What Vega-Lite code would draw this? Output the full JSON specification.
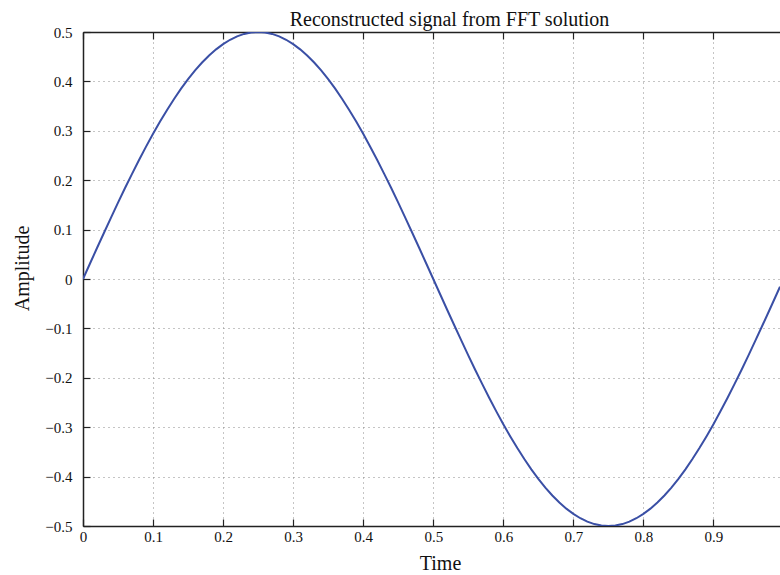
{
  "$schema": "https://vega.github.io/schema/vega-lite/v6.json",
  "autosize": "none",
  "width": 697,
  "height": 494,
  "padding": {"left": 83, "top": 32, "right": 0, "bottom": 49},
  "background": "white",
  "config": {
    "view": {"stroke": null},
    "font": "Liberation Serif",
    "axis": {
      "labelFont": "Liberation Serif",
      "titleFont": "Liberation Serif",
      "labelFontSize": 15,
      "labelColor": "#111111",
      "labelFlush": false,
      "titleFontSize": 20,
      "titleFontWeight": "normal",
      "titleColor": "#111111",
      "domainColor": "#222222",
      "domainWidth": 1.5,
      "tickColor": "#222222",
      "tickWidth": 1.2,
      "tickSize": -7,
      "gridColor": "#8a8a8a",
      "gridDash": [1, 4],
      "gridWidth": 1
    }
  },
  "title": {
    "text": "Reconstructed signal from FFT solution",
    "font": "Liberation Serif",
    "fontSize": 20,
    "fontWeight": "normal",
    "color": "#111111",
    "offset": 8,
    "dx": 18,
    "dy": 13
  },
  "data": {"values": [
    {"t":0,"a":0},{"t":0.01,"a":0.0314},{"t":0.02,"a":0.0627},{"t":0.03,"a":0.0937},{"t":0.04,"a":0.1243},
    {"t":0.05,"a":0.1545},{"t":0.06,"a":0.1841},{"t":0.07,"a":0.2129},{"t":0.08,"a":0.2409},{"t":0.09,"a":0.2679},
    {"t":0.1,"a":0.2939},{"t":0.11,"a":0.3187},{"t":0.12,"a":0.3423},{"t":0.13,"a":0.3645},{"t":0.14,"a":0.3853},
    {"t":0.15,"a":0.4045},{"t":0.16,"a":0.4222},{"t":0.17,"a":0.4382},{"t":0.18,"a":0.4524},{"t":0.19,"a":0.4649},
    {"t":0.2,"a":0.4755},{"t":0.21,"a":0.4843},{"t":0.22,"a":0.4911},{"t":0.23,"a":0.4961},{"t":0.24,"a":0.499},
    {"t":0.25,"a":0.5},{"t":0.26,"a":0.499},{"t":0.27,"a":0.4961},{"t":0.28,"a":0.4911},{"t":0.29,"a":0.4843},
    {"t":0.3,"a":0.4755},{"t":0.31,"a":0.4649},{"t":0.32,"a":0.4524},{"t":0.33,"a":0.4382},{"t":0.34,"a":0.4222},
    {"t":0.35,"a":0.4045},{"t":0.36,"a":0.3853},{"t":0.37,"a":0.3645},{"t":0.38,"a":0.3423},{"t":0.39,"a":0.3187},
    {"t":0.4,"a":0.2939},{"t":0.41,"a":0.2679},{"t":0.42,"a":0.2409},{"t":0.43,"a":0.2129},{"t":0.44,"a":0.1841},
    {"t":0.45,"a":0.1545},{"t":0.46,"a":0.1243},{"t":0.47,"a":0.0937},{"t":0.48,"a":0.0627},{"t":0.49,"a":0.0314},
    {"t":0.5,"a":0},{"t":0.51,"a":-0.0314},{"t":0.52,"a":-0.0627},{"t":0.53,"a":-0.0937},{"t":0.54,"a":-0.1243},
    {"t":0.55,"a":-0.1545},{"t":0.56,"a":-0.1841},{"t":0.57,"a":-0.2129},{"t":0.58,"a":-0.2409},{"t":0.59,"a":-0.2679},
    {"t":0.6,"a":-0.2939},{"t":0.61,"a":-0.3187},{"t":0.62,"a":-0.3423},{"t":0.63,"a":-0.3645},{"t":0.64,"a":-0.3853},
    {"t":0.65,"a":-0.4045},{"t":0.66,"a":-0.4222},{"t":0.67,"a":-0.4382},{"t":0.68,"a":-0.4524},{"t":0.69,"a":-0.4649},
    {"t":0.7,"a":-0.4755},{"t":0.71,"a":-0.4843},{"t":0.72,"a":-0.4911},{"t":0.73,"a":-0.4961},{"t":0.74,"a":-0.499},
    {"t":0.75,"a":-0.5},{"t":0.76,"a":-0.499},{"t":0.77,"a":-0.4961},{"t":0.78,"a":-0.4911},{"t":0.79,"a":-0.4843},
    {"t":0.8,"a":-0.4755},{"t":0.81,"a":-0.4649},{"t":0.82,"a":-0.4524},{"t":0.83,"a":-0.4382},{"t":0.84,"a":-0.4222},
    {"t":0.85,"a":-0.4045},{"t":0.86,"a":-0.3853},{"t":0.87,"a":-0.3645},{"t":0.88,"a":-0.3423},{"t":0.89,"a":-0.3187},
    {"t":0.9,"a":-0.2939},{"t":0.91,"a":-0.2679},{"t":0.92,"a":-0.2409},{"t":0.93,"a":-0.2129},{"t":0.94,"a":-0.1841},
    {"t":0.95,"a":-0.1545},{"t":0.96,"a":-0.1243},{"t":0.97,"a":-0.0937},{"t":0.98,"a":-0.0627},{"t":0.99,"a":-0.0314},
    {"t":0.995,"a":-0.0157}
  ]},
  "resolve": {"axis": {"x": "independent"}},
  "layer": [
    {
      "mark": {"type": "line", "color": "#3a4fa5", "strokeWidth": 2, "clip": true},
      "encoding": {
        "x": {
          "field": "t", "type": "quantitative",
          "scale": {"domain": [0, 0.995], "nice": false, "zero": false},
          "axis": {
            "orient": "bottom",
            "values": [0, 0.1, 0.2, 0.3, 0.4, 0.5, 0.6, 0.7, 0.8, 0.9],
            "labelExpr": "datum.value == 0 ? '0' : format(datum.value, '.1f')",
            "labelPadding": 10,
            "title": "Time",
            "titleX": 357,
            "titleY": 37,
            "titleBaseline": "middle",
            "grid": true
          }
        },
        "y": {
          "field": "a", "type": "quantitative",
          "scale": {"domain": [-0.5, 0.5], "nice": false},
          "axis": {
            "values": [-0.5, -0.4, -0.3, -0.2, -0.1, 0, 0.1, 0.2, 0.3, 0.4, 0.5],
            "labelExpr": "datum.value == 0 ? '0' : format(datum.value, '.1f')",
            "labelPadding": 18,
            "title": "Amplitude",
            "titleAngle": -90,
            "titleX": -61,
            "titleY": 236,
            "titleBaseline": "middle",
            "titleAlign": "center",
            "grid": true
          }
        }
      }
    },
    {
      "mark": {"type": "line", "strokeOpacity": 0},
      "encoding": {
        "x": {
          "field": "t", "type": "quantitative",
          "axis": {
            "orient": "top",
            "values": [0, 0.1, 0.2, 0.3, 0.4, 0.5, 0.6, 0.7, 0.8, 0.9],
            "labels": false,
            "title": null,
            "grid": false
          }
        },
        "y": {"field": "a", "type": "quantitative"}
      }
    }
  ]
}
